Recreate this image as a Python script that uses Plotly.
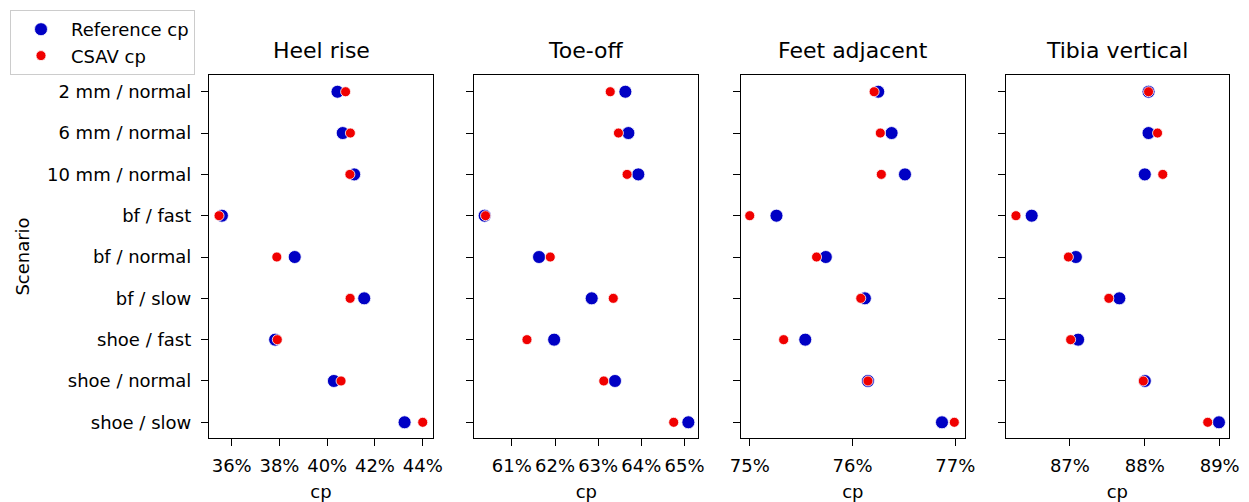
import plotly.graph_objects as go

scenarios = ["2 mm / normal", "6 mm / normal", "10 mm / normal", "bf / fast", "bf / normal",
             "bf / slow", "shoe / fast", "shoe / normal", "shoe / slow"]

panels = ["Heel rise", "Toe-off", "Feet adjacent", "Tibia vertical"]

ref_heel = [40.43, 40.65, 41.13, 35.59, 38.64, 41.55, 37.82, 40.28, 43.24]
csav_heel = [40.77, 40.97, 40.95, 35.47, 37.89, 40.96, 37.91, 40.58, 44.00]

ref_toe = [63.63, 63.70, 63.93, 60.37, 61.63, 62.85, 61.98, 63.39, 65.09]
csav_toe = [63.28, 63.47, 63.67, 60.39, 61.89, 63.35, 61.35, 63.13, 64.75]

ref_feet = [76.25, 76.38, 76.51, 75.26, 75.74, 76.12, 75.54, 76.15, 76.87]
csav_feet = [76.21, 76.27, 76.28, 75.00, 75.65, 76.08, 75.33, 76.15, 76.99]

ref_tibia = [88.05, 88.05, 88.00, 86.49, 87.08, 87.66, 87.11, 88.00, 88.99]
csav_tibia = [88.05, 88.17, 88.24, 86.28, 86.98, 87.52, 87.01, 87.98, 88.84]

x_ticks = [[36, 38, 40, 42, 44], [61, 62, 63, 64, 65], [75, 76, 77], [87, 88, 89]]
x_ranges = [[35.05, 44.43], [60.13, 65.32], [74.912, 77.094], [86.143, 89.124]]

ref_vals = [ref_heel, ref_toe, ref_feet, ref_tibia]
csav_vals = [csav_heel, csav_toe, csav_feet, csav_tibia]

FONT = "DejaVu Sans"
OFF = 8  # default page body margin
W, H = 1249 - OFF, 502 - OFF
# target page-pixel geometry
p_left, p_top, p_right, p_bottom = 209, 75, 1229, 438
ml, mt = p_left - OFF, p_top - OFF
mr = W - (p_right - OFF)
mb = H - (p_bottom - OFF)
pw = W - ml - mr
ph = H - mt - mb
px_domains = [(209, 433), (474.3, 698.3), (740.7, 965), (1005.7, 1229)]
domains = [[(a - p_left) / pw, min(1.0, (b - p_left) / pw)] for a, b in px_domains]

BLUE = "#0000C4"
RED = "#F00000"

fig = go.Figure()
layout = dict(
    width=W, height=H,
    margin=dict(l=ml, r=mr, t=mt, b=mb, autoexpand=False),
    plot_bgcolor="white", paper_bgcolor="white",
    font=dict(family=FONT, size=18, color="#000000"),
    showlegend=True,
    legend=dict(x=(10 - p_left) / pw, y=(p_bottom - 10) / ph, xanchor="left", yanchor="top",
                bgcolor="white", bordercolor="#cccccc", borderwidth=1,
                font=dict(size=18, family=FONT), itemwidth=50,
                tracegroupgap=0),
)

annotations = []
for i in range(4):
    xa = "x" if i == 0 else f"x{i+1}"
    ya = "y" if i == 0 else f"y{i+1}"
    fig.add_trace(go.Scatter(
        x=ref_vals[i], y=scenarios, mode="markers", xaxis=xa, yaxis=ya,
        name="Reference cp", showlegend=(i == 0),
        marker=dict(color=BLUE, size=13, line=dict(color="white", width=0.8)),
    ))
    fig.add_trace(go.Scatter(
        x=csav_vals[i], y=scenarios, mode="markers", xaxis=xa, yaxis=ya,
        name="CSAV cp", showlegend=(i == 0),
        marker=dict(color=RED, size=10, line=dict(color="white", width=0.8)),
    ))
    xkey = "xaxis" if i == 0 else f"xaxis{i+1}"
    ykey = "yaxis" if i == 0 else f"yaxis{i+1}"
    layout[xkey] = dict(
        domain=domains[i], anchor=ya, range=x_ranges[i], automargin=False,
        tickvals=x_ticks[i], ticktext=[f"{v}%" for v in x_ticks[i]],
        tickangle=0, ticks="outside", ticklen=7, tickwidth=1.3, tickcolor="black",
        ticklabelstandoff=4,
        showline=True, linecolor="black", linewidth=1.3, mirror=True,
        showgrid=False, zeroline=False,
        tickfont=dict(size=18, family=FONT),
        title=dict(text="cp", font=dict(size=18, family=FONT), standoff=11),
    )
    ydict = dict(
        anchor=xa, domain=[0, 1], type="category", automargin=False,
        categoryorder="array", categoryarray=scenarios,
        range=[8.38, -0.405],
        ticks="outside", ticklen=7, tickwidth=1.3, tickcolor="black",
        showline=True, linecolor="black", linewidth=1.3, mirror=True,
        showgrid=False, zeroline=False,
        tickfont=dict(size=18, family=FONT),
        showticklabels=(i == 0),
    )
    if i == 0:
        ydict["title"] = dict(text="Scenario", font=dict(size=18, family=FONT), standoff=12)
        ydict["ticklabelstandoff"] = 6
    layout[ykey] = ydict
    annotations.append(dict(
        text=panels[i], xref="paper", yref="paper",
        x=(domains[i][0] + domains[i][1]) / 2, y=1.0, yshift=10,
        xanchor="center", yanchor="bottom", showarrow=False,
        font=dict(size=22, family=FONT),
    ))

layout["annotations"] = annotations
fig.update_layout(**layout)
fig.write_html("out.html")
